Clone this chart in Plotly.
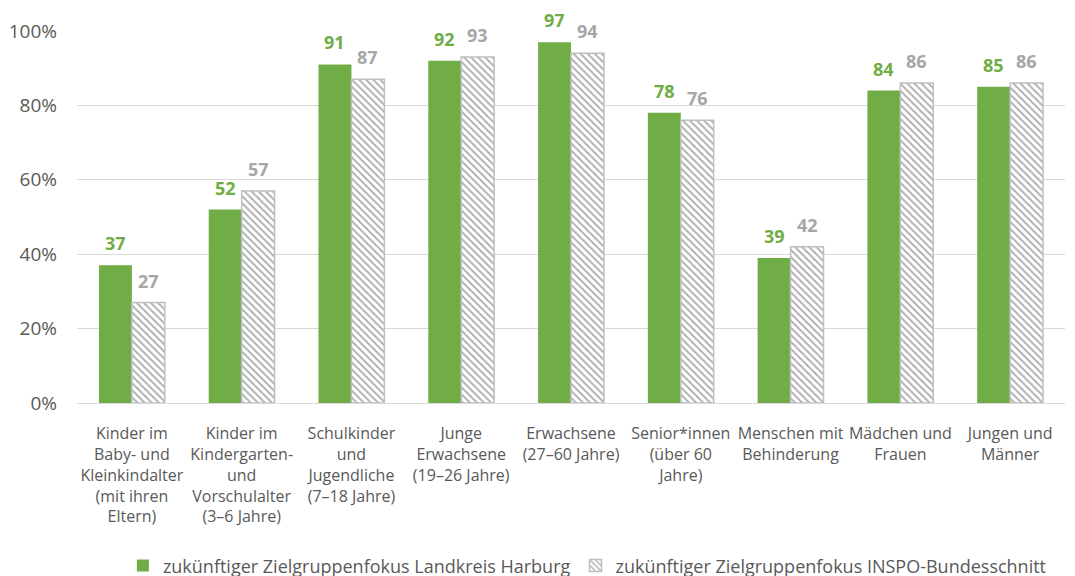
import plotly.graph_objects as go

categories = [
    "Kinder im<br>Baby- und<br>Kleinkindalter<br>(mit ihren<br>Eltern)",
    "Kinder im<br>Kindergarten-<br>und<br>Vorschulalter<br>(3–6 Jahre)",
    "Schulkinder<br>und<br>Jugendliche<br>(7–18 Jahre)",
    "Junge<br>Erwachsene<br>(19–26 Jahre)",
    "Erwachsene<br>(27–60 Jahre)",
    "Senior*innen<br>(über 60<br>Jahre)",
    "Menschen mit<br>Behinderung",
    "Mädchen und<br>Frauen",
    "Jungen und<br>Männer",
]
harburg = [37, 52, 91, 92, 97, 78, 39, 84, 85]
inspo = [27, 57, 87, 93, 94, 76, 42, 86, 86]
series_names = [
    "zukünftiger Zielgruppenfokus Landkreis Harburg",
    "zukünftiger Zielgruppenfokus INSPO-Bundesschnitt",
]
y_ticks = [0, 20, 40, 60, 80, 100]
y_tick_text = ["0%", "20%", "40%", "60%", "80%", "100%"]

FONT = "Open Sans"
GREEN = "#70ad47"
GREY_TXT = "#a6a6a6"
AXIS_TXT = "#595959"

fig = go.Figure()
fig.add_trace(go.Bar(
    x=categories, y=harburg, name=series_names[0],
    marker=dict(color=GREEN, line=dict(width=0)),
))
fig.add_trace(go.Bar(
    x=categories, y=inspo, name=series_names[1],
    marker=dict(
        color="white",
        line=dict(color="#bfbfbf", width=1.5),
        pattern=dict(shape="\\", fgcolor="#595959", bgcolor="white", size=5, solidity=0.35),
    ),
))

# value labels above bars
for vals, color, shift in [(harburg, GREEN, -16.5), (inspo, GREY_TXT, 16.5)]:
    for c, v in zip(categories, vals):
        fig.add_annotation(
            x=c, y=v, text=f"<b>{v}</b>", showarrow=False,
            xanchor="center", yanchor="bottom", xshift=shift, yshift=8,
            font=dict(family=FONT, size=18, color=color),
        )

# page body has an 8px default margin, so the figure is drawn 8px in
fig.update_layout(
    width=1067, height=568,
    margin=dict(l=69, r=10, t=23, b=173, autoexpand=False),
    plot_bgcolor="white", paper_bgcolor="white",
    barmode="group", bargap=0.4, bargroupgap=0,
    font=dict(family=FONT, color=AXIS_TXT),
    showlegend=True,
    legend=dict(
        orientation="h", x=0.543, xref="container", xanchor="center",
        y=0.018, yref="container", yanchor="middle",
        font=dict(family=FONT, size=18, color=AXIS_TXT),
        itemwidth=30,
    ),
)
fig.update_xaxes(
    tickfont=dict(family=FONT, size=16, color=AXIS_TXT),
    showline=True, linecolor="#d9d9d9", linewidth=1,
    ticks="", tickangle=0, ticklabelstandoff=16,
)
fig.update_yaxes(
    range=[0, 100], tickvals=y_ticks, ticktext=y_tick_text,
    tickfont=dict(family=FONT, size=19, color=AXIS_TXT),
    showgrid=True, gridcolor="#d9d9d9", gridwidth=1,
    zeroline=False, ticks="", ticklabelstandoff=19,
)

fig.write_html("out.html")
